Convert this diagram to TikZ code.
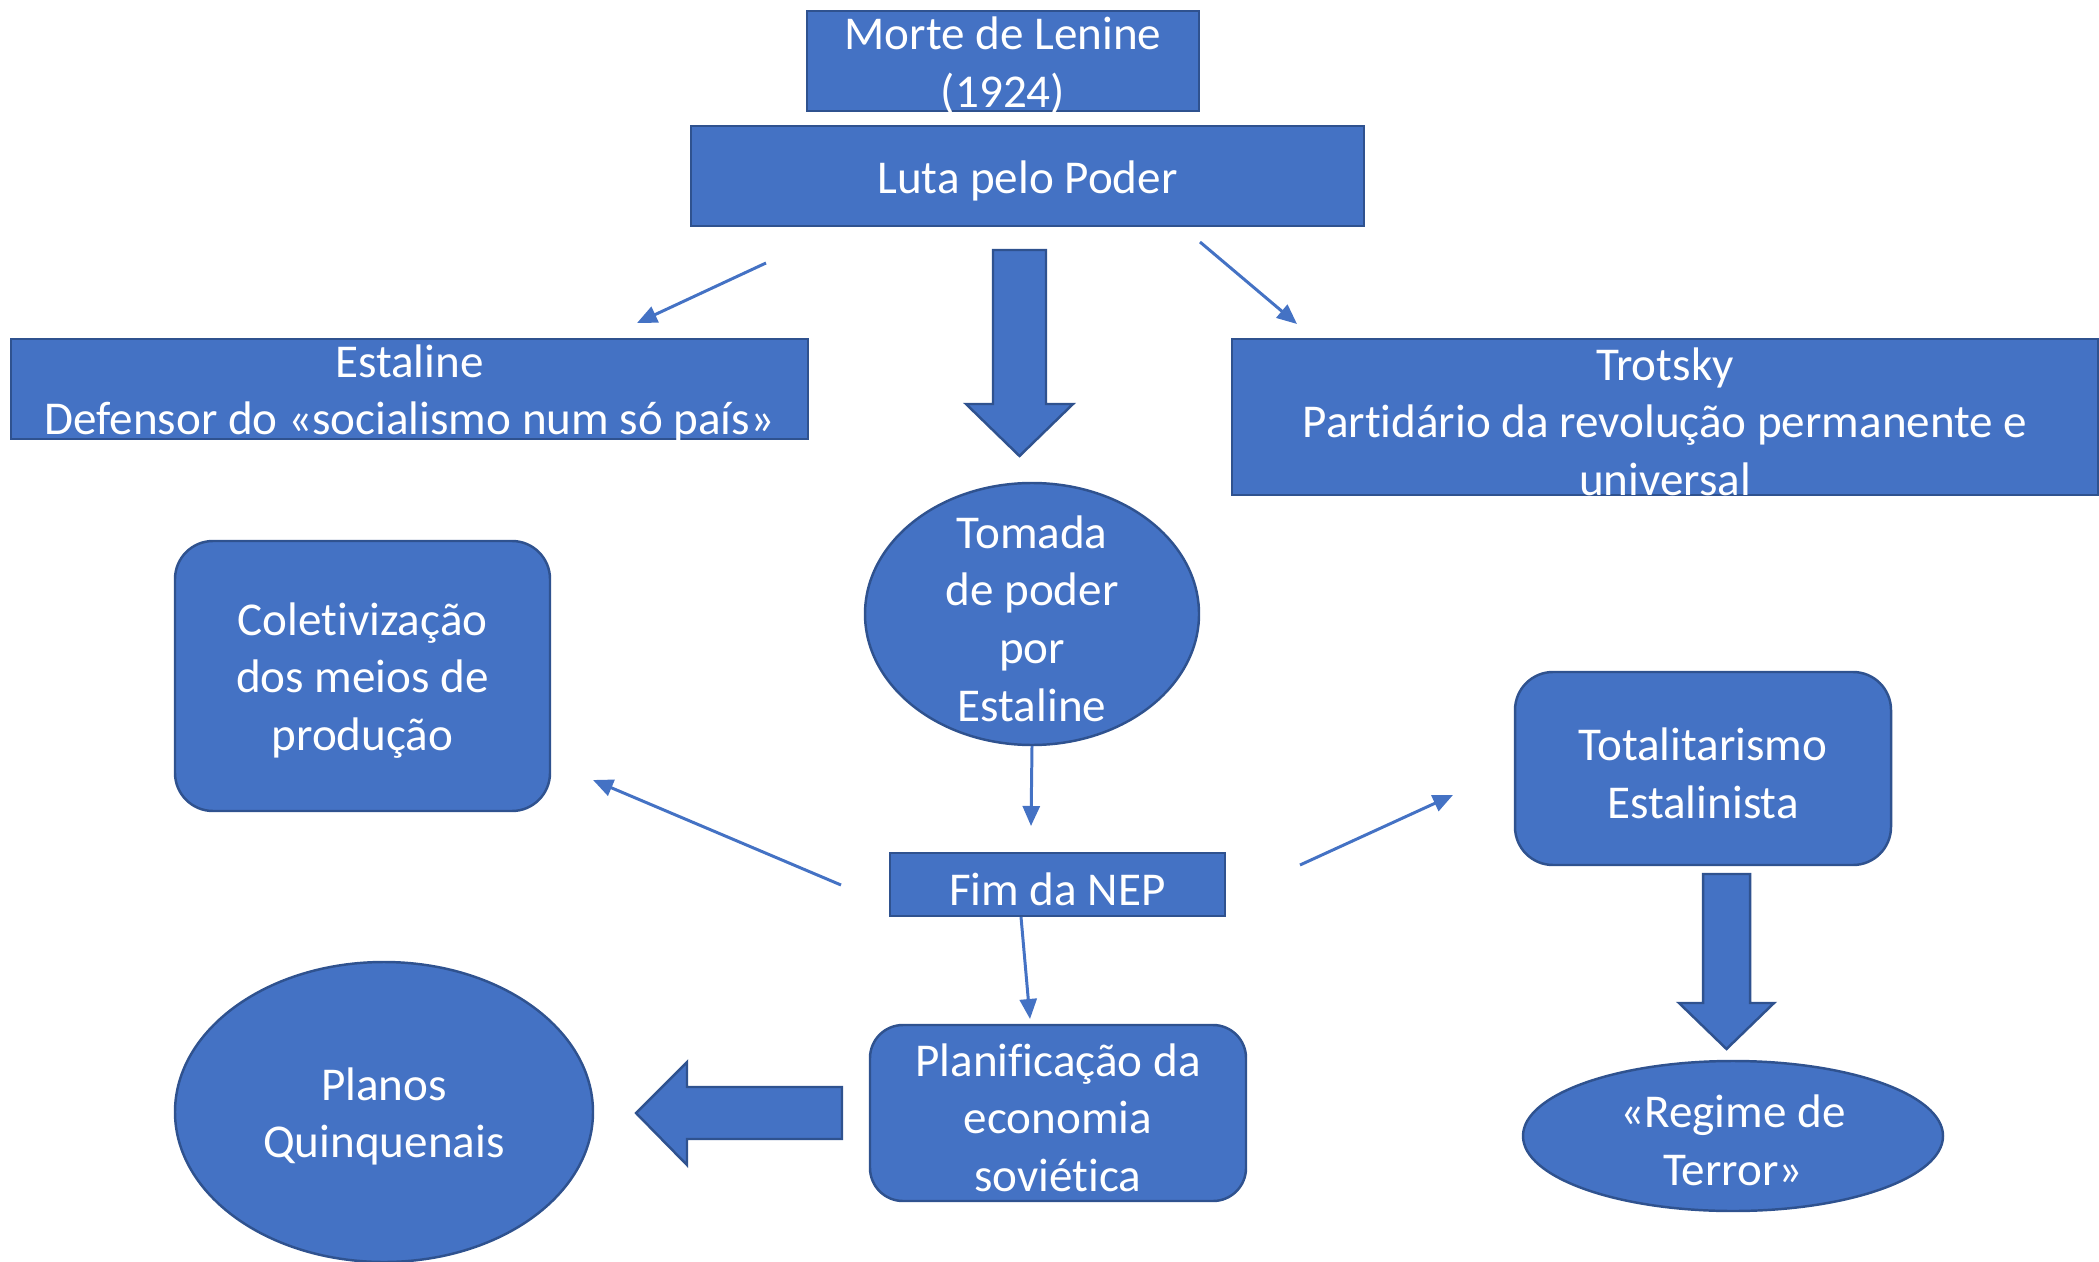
\documentclass[tikz,border=0pt]{standalone}
\usepackage{fontspec}
\setmainfont{Carlito}[Ligatures=NoCommon]
\usetikzlibrary{shapes.geometric,arrows.meta}
\definecolor{boxblue}{HTML}{4472C4}
\definecolor{boxedge}{HTML}{2F528F}
\begin{document}
\begin{tikzpicture}[
    shapebox/.style={draw=boxedge,fill=boxblue,line width=0.7pt,inner sep=0pt},
    roundbox/.style={shapebox,rounded corners=0.38cm},
    ovalbox/.style={shapebox,ellipse},
    txt/.style={text=white,align=center,yshift=-0.045cm,font=\fontsize{13.4}{16.4}\selectfont},
    thinarrow/.style={draw=boxblue,line width=0.85pt,-{Triangle[length=0.2cm,width=0.17cm]}},
    bigarrow/.style={draw=boxedge,fill=boxblue,line width=0.7pt}
]
    \useasboundingbox (0,0) rectangle (20.99,-12.62);
    % Top boxes
    \node[shapebox,minimum width=3.92cm,minimum height=1cm,
        label={[txt]center:{Morte de Lenine\\(1924)}}] (morte) at (10.03,-0.61) {};
    \node[shapebox,minimum width=6.73cm,minimum height=1cm,
        label={[txt]center:Luta pelo Poder}] (luta) at (10.275,-1.76) {};
    \node[shapebox,minimum width=7.97cm,minimum height=1cm,
        label={[txt]center:{Estaline\\Defensor do «socialismo num só país»}}] (estaline) at (4.095,-3.89) {};
    \node[shapebox,minimum width=8.66cm,minimum height=1.56cm,
        label={[txt]center:{Trotsky\\Partidário da revolução permanente e\\universal}}] (trotsky) at (16.65,-4.17) {};
    % Middle row
    \node[ovalbox,minimum width=3.34cm,minimum height=2.62cm,
        label={[txt]center:{Tomada\\de poder\\por\\Estaline}}] (tomada) at (10.32,-6.14) {};
    \node[roundbox,minimum width=3.75cm,minimum height=2.70cm,
        label={[txt]center:{Coletivização\\dos meios de\\produção}}] (coletiv) at (3.625,-6.76) {};
    \node[roundbox,minimum width=3.76cm,minimum height=1.93cm,
        label={[txt]center:{Totalitarismo\\Estalinista}}] (totalit) at (17.03,-7.685) {};
    \node[shapebox,minimum width=3.35cm,minimum height=0.63cm,
        label={[txt]center:Fim da NEP}] (fimnep) at (10.575,-8.845) {};
    % Bottom row
    \node[roundbox,rounded corners=0.33cm,minimum width=3.76cm,minimum height=1.76cm,
        label={[txt]center:{Planificação da\\economia\\soviética}}] (planif) at (10.58,-11.13) {};
    \node[ovalbox,minimum width=4.18cm,minimum height=3.0cm,
        label={[txt]center:{Planos\\Quinquenais}}] (planos) at (3.84,-11.12) {};
    \node[ovalbox,minimum width=4.20cm,minimum height=1.50cm,
        label={[txt]center:{«Regime de\\Terror»}}] (regime) at (17.33,-11.36) {};
    % Arrow ends
    \coordinate (lutaL) at (7.66,-2.63);
    \coordinate (estT) at (6.37,-3.23);
    \coordinate (lutaR) at (12.0,-2.42);
    \coordinate (troT) at (12.97,-3.24);
    \coordinate (nepT) at (10.31,-8.26);
    \coordinate (nepL) at (8.41,-8.85);
    \coordinate (colR) at (5.93,-7.80);
    \coordinate (nepR) at (13.0,-8.65);
    \coordinate (totL) at (14.53,-7.95);
    \coordinate (nepB) at (10.21,-9.17);
    \coordinate (plaT) at (10.30,-10.19);
    % Thin arrows
    \draw[thinarrow] (lutaL) -- (estT);
    \draw[thinarrow] (lutaR) -- (troT);
    \draw[thinarrow] (tomada.south) -- (nepT);
    \draw[thinarrow] (nepL) -- (colR);
    \draw[thinarrow] (nepR) -- (totL);
    \draw[thinarrow] (nepB) -- (plaT);
    % Block arrows
    \draw[bigarrow] (9.93,-2.50) -- (10.46,-2.50) -- (10.46,-4.04) -- (10.73,-4.04)
        -- (10.195,-4.56) -- (9.66,-4.04) -- (9.93,-4.04) -- cycle;
    \draw[bigarrow] (17.03,-8.74) -- (17.50,-8.74) -- (17.50,-10.03) -- (17.74,-10.03)
        -- (17.265,-10.49) -- (16.79,-10.03) -- (17.03,-10.03) -- cycle;
    \draw[bigarrow] (8.42,-10.87) -- (6.87,-10.87) -- (6.87,-10.62) -- (6.36,-11.13)
        -- (6.87,-11.65) -- (6.87,-11.39) -- (8.42,-11.39) -- cycle;
\end{tikzpicture}
\end{document}
